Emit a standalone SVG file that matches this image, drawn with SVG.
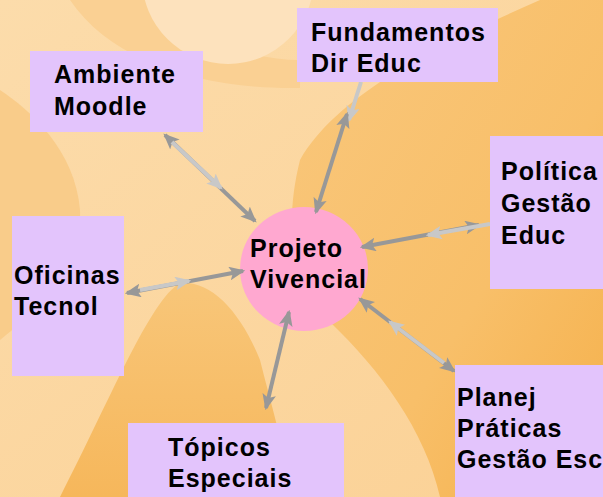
<svg xmlns="http://www.w3.org/2000/svg" width="603" height="497" viewBox="0 0 603 497">
<style>
.box{fill:#e3c4fc}
.t{font-family:"Liberation Sans",Arial,sans-serif;font-weight:bold;font-size:25px;letter-spacing:1px;fill:#000}
.dk{stroke:#989898;stroke-width:4;fill:none}
.lt{stroke:#c8c8c8;stroke-width:4;fill:none}
</style>
<defs>
<linearGradient id="bg" x1="0" y1="0" x2="1" y2="1">
<stop offset="0" stop-color="#fcdcab"/>
<stop offset="1" stop-color="#fbd195"/>
</linearGradient>
<linearGradient id="og" x1="0" y1="0" x2="1" y2="1">
<stop offset="0" stop-color="#f9c77c"/>
<stop offset="0.6" stop-color="#f8bf69"/>
<stop offset="1" stop-color="#f5b04a"/>
</linearGradient>
<linearGradient id="og2" x1="0" y1="0" x2="0" y2="1">
<stop offset="0" stop-color="#f8c679"/>
<stop offset="1" stop-color="#f6b75b"/>
</linearGradient>
<marker id="ad" viewBox="0 0 14 12" refX="12" refY="6" markerWidth="16" markerHeight="14" markerUnits="userSpaceOnUse" orient="auto-start-reverse">
<path d="M0,0 L14,6 L0,12 L3,6 z" fill="#989898"/>
</marker>
<marker id="al" viewBox="0 0 14 12" refX="12" refY="6" markerWidth="16" markerHeight="14" markerUnits="userSpaceOnUse" orient="auto-start-reverse">
<path d="M0,0 L14,6 L0,12 L3,6 z" fill="#c8c8c8"/>
</marker>
</defs>
<g id="background">
<rect x="0" y="0" width="603" height="497" fill="url(#bg)"/>
<path d="M70,0 C110,60 200,90 300,88 L300,60 C240,60 180,30 150,0 Z" fill="#fad093"/>
<circle cx="228" cy="-22" r="86" fill="#fde2bd"/>
<path d="M0,90 C30,110 75,150 80,210 C82,260 50,300 0,340 Z" fill="#f9cc8a"/>
<path d="M540,0 L603,0 L603,497 L440,497 C425,430 380,370 330,322 C300,290 280,240 300,160 C340,90 450,40 540,0 Z" fill="url(#og)"/>
<path d="M180,283 C150,300 110,400 60,497 L292,497 C285,450 270,400 260,360 C240,310 210,280 180,283 Z" fill="url(#og2)"/>
</g>
<g id="projeto">
<ellipse cx="304" cy="269" rx="64" ry="62" fill="#ffa8d0"/>
<text class="t" x="250" y="257">Projeto</text>
<text class="t" x="250" y="288">Vivencial</text>
</g>
<g id="connectors">
<line class="dk" x1="165" y1="135" x2="255" y2="221" marker-start="url(#ad)" marker-end="url(#ad)"/>
<line class="lt" x1="172" y1="142" x2="221" y2="188" marker-end="url(#al)"/>
<line class="lt" x1="361" y1="82" x2="349" y2="120" marker-end="url(#al)"/>
<line class="dk" x1="347" y1="114" x2="316" y2="212" marker-start="url(#ad)" marker-end="url(#ad)"/>
<line class="dk" x1="479" y1="225" x2="362" y2="247" marker-start="url(#ad)" marker-end="url(#ad)"/>
<line class="lt" x1="490" y1="224" x2="428" y2="235" marker-end="url(#al)"/>
<line class="dk" x1="127" y1="293" x2="243" y2="271" marker-start="url(#ad)" marker-end="url(#ad)"/>
<line class="lt" x1="140" y1="290" x2="189" y2="281" marker-end="url(#al)"/>
<line class="dk" x1="360" y1="299" x2="454" y2="371" marker-start="url(#ad)" marker-end="url(#ad)"/>
<line class="lt" x1="444" y1="363" x2="390" y2="322" marker-end="url(#al)"/>
<line class="dk" x1="289" y1="312" x2="266" y2="408" marker-start="url(#ad)" marker-end="url(#ad)"/>
</g>
<g id="ambiente">
<rect class="box" x="30" y="51" width="173" height="81"/>
<text class="t" x="54" y="83">Ambiente</text>
<text class="t" x="54" y="115">Moodle</text>
</g>
<g id="fundamentos">
<rect class="box" x="297" y="8" width="201" height="74"/>
<text class="t" x="311" y="41">Fundamentos</text>
<text class="t" x="311" y="72">Dir Educ</text>
</g>
<g id="politica">
<rect class="box" x="490" y="136" width="113" height="153"/>
<text class="t" x="501" y="180">Política</text>
<text class="t" x="501" y="212">Gestão</text>
<text class="t" x="501" y="244">Educ</text>
</g>
<g id="oficinas">
<rect class="box" x="12" y="216" width="112" height="160"/>
<text class="t" x="14" y="284">Oficinas</text>
<text class="t" x="14" y="315">Tecnol</text>
</g>
<g id="topicos">
<rect class="box" x="128" y="423" width="216" height="74"/>
<text class="t" x="168" y="456">Tópicos</text>
<text class="t" x="168" y="487">Especiais</text>
</g>
<g id="planej">
<rect class="box" x="455" y="365" width="148" height="132"/>
<text class="t" x="457" y="406">Planej</text>
<text class="t" x="457" y="437">Práticas</text>
<text class="t" x="457" y="468">Gestão Esc</text>
</g>
</svg>
